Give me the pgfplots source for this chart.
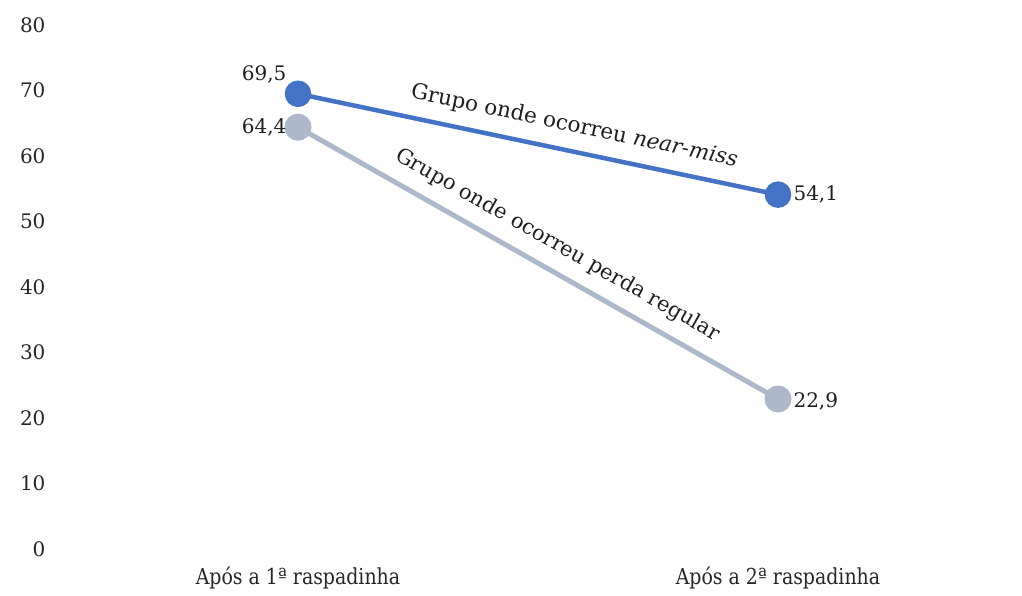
\documentclass[border=0pt]{standalone}
\usepackage{fontspec}
\setmainfont{DejaVu Serif}
\newfontfamily\catfont[FakeStretch=0.86]{DejaVu Serif}
\usepackage{pgfplots}
\pgfplotsset{compat=1.18}
\definecolor{nearmiss}{HTML}{4472C4}
\definecolor{regular}{HTML}{ADB9CA}

\pgfplotsset{
  % value label printed next to a single point
  valuelabel/.style={
    draw=none, mark=none, forget plot,
    nodes near coords,
    nodes near coords style={font=\fontsize{20}{24}\selectfont, text=black!88,
      /pgf/number format/fixed, /pgf/number format/precision=1,
      /pgf/number format/fixed zerofill, /pgf/number format/use comma,
      /pgf/number format/assume math mode=true, #1},
  },
}

\begin{document}
\begin{tikzpicture}
\useasboundingbox (-58pt,-47pt) rectangle (964pt,549pt);
\begin{axis}[
  scale only axis, width=960pt, height=524pt,
  xmin=-0.5, xmax=1.5, ymin=0, ymax=80,
  axis line style={draw=none},
  major tick length=0pt,
  xtick={0,1},
  xticklabels={Após a 1ª raspadinha, Após a 2ª raspadinha},
  ytick={0,10,...,80},
  ticklabel style={font=\fontsize{20}{24}\selectfont, text=black!85},
  xticklabel style={font=\catfont\fontsize{22}{26}\selectfont, yshift=-14pt},
  yticklabel style={xshift=-9pt},
  /pgf/number format/assume math mode=true,
  clip=false,
]
% group with a regular loss
\addplot[color=regular, line width=5pt, mark=*, mark size=11pt,
  mark options={draw=regular, fill=regular}]
  coordinates {(0,64.4) (1,22.9)}
  node[pos=0.515, sloped, above=9pt, text=black!88,
    font=\fontsize{21}{25}\selectfont] {Grupo onde ocorreu perda regular};
% group with a near-miss
\addplot[color=nearmiss, line width=4.5pt, mark=*, mark size=11pt,
  mark options={draw=nearmiss, fill=nearmiss}]
  coordinates {(0,69.5) (1,54.1)}
  node[pos=0.565, sloped, above=9pt, text=black!88,
    font=\fontsize{21.5}{25}\selectfont] {Grupo onde ocorreu \textit{near-miss}};
% value labels
\addplot[valuelabel={anchor=east, xshift=-8pt, yshift=19pt}] coordinates {(0,69.5)};
\addplot[valuelabel={anchor=west, xshift=12pt}] coordinates {(1,54.1)};
\addplot[valuelabel={anchor=east, xshift=-8pt}] coordinates {(0,64.4)};
\addplot[valuelabel={anchor=west, xshift=12pt, yshift=-2pt}] coordinates {(1,22.9)};
\end{axis}
\end{tikzpicture}
\end{document}
